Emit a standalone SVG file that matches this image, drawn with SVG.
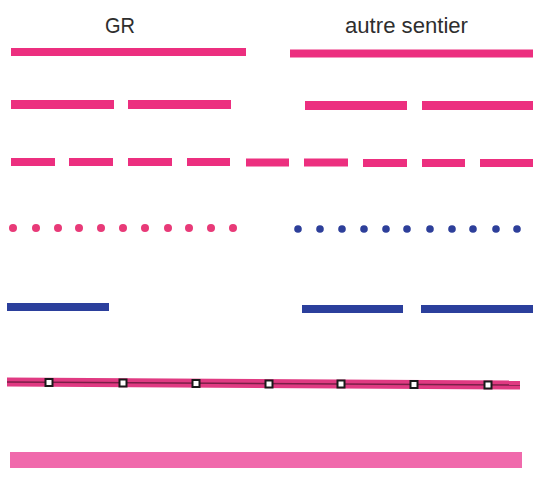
<svg xmlns="http://www.w3.org/2000/svg" width="533" height="488" viewBox="0 0 533 488">
  <defs>
    <style>
      .lbl { font-family: "Liberation Sans", Arial, sans-serif; font-size: 22.5px; fill: #2e2e2e; }
      .pink { fill: #ec2f7f; }
      .blue { fill: #2b3f9c; }
      .pdot { fill: #e83a78; }
      .bdot { fill: #2d3f9a; }
      .mark { fill: #ffffff; stroke: #1a1a1a; stroke-width: 2; }
    </style>
  </defs>
  <rect width="533" height="488" fill="#ffffff"/>

  <g id="labels">
    <text class="lbl" x="105" y="33" textLength="30" lengthAdjust="spacingAndGlyphs">GR</text>
    <text class="lbl" x="345" y="33" textLength="123" lengthAdjust="spacingAndGlyphs">autre sentier</text>
  </g>

  <g id="row-continuous">
    <rect class="pink" x="11" y="48" width="235" height="8"/>
    <rect class="pink" x="290" y="49.5" width="243" height="8"/>
  </g>

  <g id="row-long-dash">
    <rect class="pink" x="11" y="100" width="103" height="9"/>
    <rect class="pink" x="128" y="100" width="103" height="9"/>
    <rect class="pink" x="305" y="101" width="102" height="9"/>
    <rect class="pink" x="422" y="101" width="111" height="9"/>
  </g>

  <g id="row-short-dash">
    <rect class="pink" x="11" y="158" width="44" height="8"/>
    <rect class="pink" x="69" y="158" width="44" height="8"/>
    <rect class="pink" x="128" y="158" width="44" height="8"/>
    <rect class="pink" x="187" y="158" width="43" height="8"/>
    <rect class="pink" x="246" y="158.5" width="43" height="8"/>
    <rect class="pink" x="304" y="158.5" width="44" height="8"/>
    <rect class="pink" x="363" y="159" width="44" height="8"/>
    <rect class="pink" x="422" y="159" width="43" height="8"/>
    <rect class="pink" x="480" y="159" width="53" height="8"/>
  </g>

  <g id="row-dots">
    <circle class="pdot" cx="13" cy="228" r="4"/>
    <circle class="pdot" cx="36" cy="228" r="4"/>
    <circle class="pdot" cx="58" cy="228" r="4"/>
    <circle class="pdot" cx="79" cy="228" r="4"/>
    <circle class="pdot" cx="101" cy="228" r="4"/>
    <circle class="pdot" cx="123" cy="228" r="4"/>
    <circle class="pdot" cx="145" cy="228" r="4"/>
    <circle class="pdot" cx="168" cy="228" r="4"/>
    <circle class="pdot" cx="189" cy="228" r="4"/>
    <circle class="pdot" cx="211" cy="228" r="4"/>
    <circle class="pdot" cx="233" cy="228" r="4"/>
    <circle class="bdot" cx="298" cy="229" r="3.8"/>
    <circle class="bdot" cx="320" cy="229" r="3.8"/>
    <circle class="bdot" cx="342" cy="229" r="3.8"/>
    <circle class="bdot" cx="364" cy="229" r="3.8"/>
    <circle class="bdot" cx="386" cy="229" r="3.8"/>
    <circle class="bdot" cx="407" cy="229" r="3.8"/>
    <circle class="bdot" cx="430" cy="229" r="3.8"/>
    <circle class="bdot" cx="452" cy="229" r="3.8"/>
    <circle class="bdot" cx="473" cy="229" r="3.8"/>
    <circle class="bdot" cx="496" cy="229" r="3.8"/>
    <circle class="bdot" cx="517" cy="229" r="3.8"/>
  </g>

  <g id="row-blue">
    <rect class="blue" x="7" y="303" width="102" height="8"/>
    <rect class="blue" x="302" y="305" width="101" height="8"/>
    <rect class="blue" x="421" y="305" width="112" height="8"/>
  </g>

  <g id="row-marked">
    <polygon points="7,377.5 520,380.5 520,389.5 7,386.5" fill="#e03a82"/>
    <line x1="7" y1="382" x2="520" y2="385" stroke="#7a1f48" stroke-width="1.5"/>
    <rect class="mark" x="45.5" y="379" width="7" height="7"/>
    <rect class="mark" x="119.5" y="379.5" width="7" height="7"/>
    <rect class="mark" x="192.5" y="380" width="7" height="7"/>
    <rect class="mark" x="265.5" y="380.5" width="7" height="7"/>
    <rect class="mark" x="337.5" y="380.5" width="7" height="7"/>
    <rect class="mark" x="410.5" y="381" width="7" height="7"/>
    <rect class="mark" x="484.5" y="381.5" width="7" height="7"/>
  </g>

  <g id="row-wide">
    <rect x="10" y="452" width="512" height="16" fill="#f06aac"/>
  </g>
</svg>
